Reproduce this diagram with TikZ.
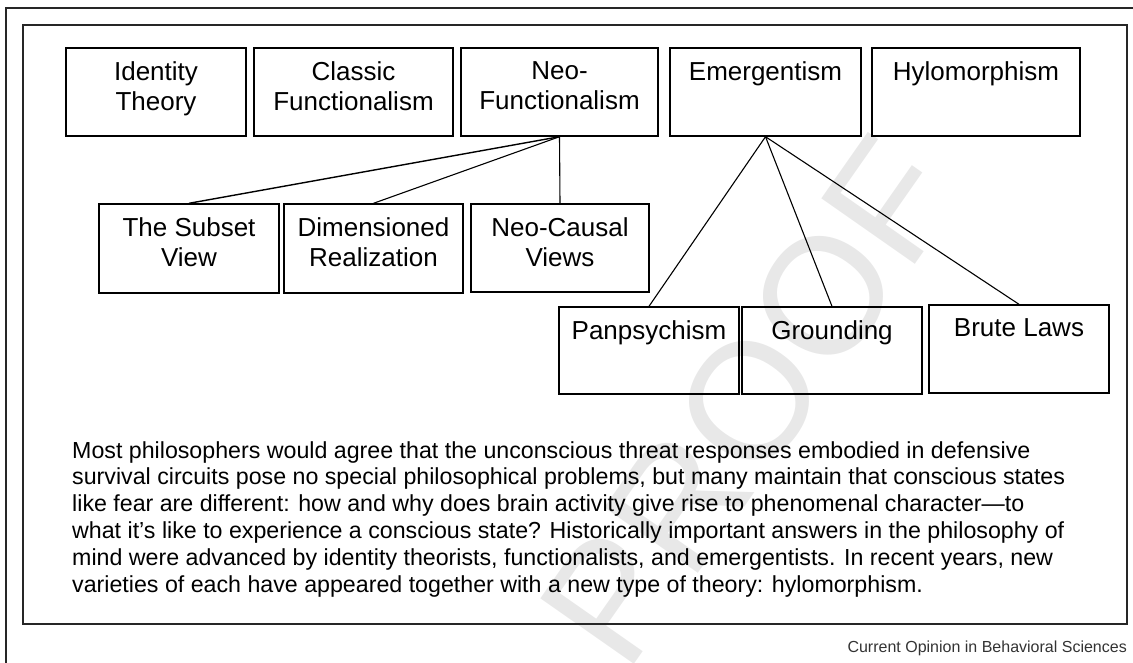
\documentclass[tikz,border=0pt]{standalone}
\usepackage{fontspec}
\setmainfont{Liberation Sans}
\usepackage{xcolor}
\usepackage{tikz}
\usetikzlibrary{positioning}

\begin{document}
\begin{tikzpicture}[x=1pt,y=-1pt,
        concept/.style={draw, line width=1.4pt, inner sep=0pt},
        caption/.style={align=center, inner sep=0pt, font=\fontsize{26}{29.5}\selectfont},
        branch/.style={line width=1.1pt},
        frame/.style={draw=black!85, line width=1.2pt}]
        \useasboundingbox (0,0) rectangle (1133,662);
        \clip (0,0) rectangle (1133,662);

        \node[rotate=55, anchor=east, inner sep=0pt, text=black!9,
              font=\fontsize{166}{166}\selectfont] (stamp) at (919,159) {UNCORRECTED PROOF};

        \draw[frame] (6,680) -- (6,8) -- (1150,8);
        \draw[frame] (23,25) rectangle (1127,624);

        \node[concept, minimum width=180pt, minimum height=88pt] (identity) at (156,92) {};
        \node[concept, minimum width=199pt, minimum height=88pt] (classic) at (353.5,92) {};
        \node[concept, minimum width=197pt, minimum height=88pt] (neofunc) at (559.5,92) {};
        \node[concept, minimum width=191pt, minimum height=88pt] (emerg) at (765.5,92) {};
        \node[concept, minimum width=208pt, minimum height=88pt] (hylo) at (976,92) {};

        \node[concept, minimum width=180pt, minimum height=89pt] (subset) at (189,248.5) {};
        \node[concept, minimum width=179pt, minimum height=89pt] (dimens) at (373.5,248.5) {};
        \node[concept, minimum width=178pt, minimum height=88pt] (neocausal) at (560,248) {};

        \node[concept, minimum width=180pt, minimum height=87pt] (panpsy) at (649,350.5) {};
        \node[concept, minimum width=180pt, minimum height=87pt] (ground) at (832,350.5) {};
        \node[concept, minimum width=180pt, minimum height=88pt] (brute) at (1019,349) {};

        \node[caption, below=14.5pt of identity.north] (identitytxt) {Identity\\Theory};
        \node[caption, below=14.5pt of classic.north] (classictxt) {Classic\\Functionalism};
        \node[caption, below=14.5pt of neofunc.north] (neofunctxt) {Neo-\\Functionalism};
        \node[caption, below=14.5pt of emerg.north] (emergtxt) {Emergentism};
        \node[caption, below=14.5pt of hylo.north] (hylotxt) {Hylomorphism};
        \node[caption, below=14.5pt of subset.north] (subsettxt) {The Subset\\View};
        \node[caption, below=14.5pt of dimens.north] (dimenstxt) {Dimensioned\\Realization};
        \node[caption, below=14.5pt of neocausal.north] (neocausaltxt) {Neo-Causal\\Views};
        \node[caption, below=14.5pt of panpsy.north] (panpsytxt) {Panpsychism};
        \node[caption, below=14.5pt of ground.north] (groundtxt) {Grounding};
        \node[caption, below=14.5pt of brute.north] (brutetxt) {Brute Laws};

        \draw[branch, line width=1.4pt] (neofunc.south) -- (subset.north);
        \draw[branch] (neofunc.south) -- (dimens.north);
        \draw[branch] (neofunc.south) -- (neocausal.north);
        \draw[branch] (emerg.south) -- (panpsy.north);
        \draw[branch] (emerg.south) -- (ground.north);
        \draw[branch] (emerg.south) -- (brute.north);

        \node[anchor=north west, align=left, inner sep=0pt,
              font=\fontsize{23.2}{26.8}\selectfont] (blurb) at (72,441)
            {Most philosophers would agree that the unconscious threat responses embodied in defensive\\
             survival circuits pose no special philosophical problems, but many maintain that conscious states\\
             like fear are different: how and why does brain activity give rise to phenomenal character—to\\
             what it’s like to experience a conscious state? Historically important answers in the philosophy of\\
             mind were advanced by identity theorists, functionalists, and emergentists. In recent years, new\\
             varieties of each have appeared together with a new type of theory: hylomorphism.};

        \node[anchor=base east, inner sep=0pt, text=black!80,
              font=\fontsize{16}{19}\selectfont] (source) at (1127,652.5) {Current Opinion in Behavioral Sciences};
    \end{tikzpicture}
\end{document}
